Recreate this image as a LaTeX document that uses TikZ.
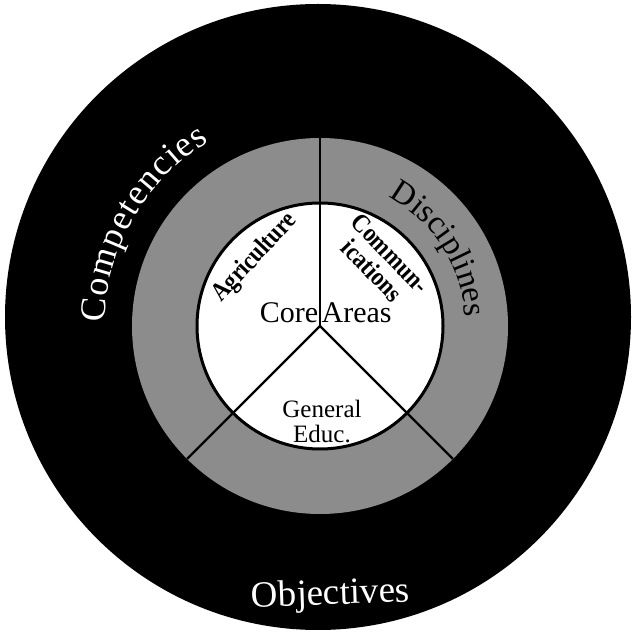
\documentclass[tikz,border=0pt]{standalone}
\usepackage{fontspec}
\setmainfont{Liberation Serif}
\usetikzlibrary{decorations.text}
\definecolor{ringgray}{gray}{0.55}
\begin{document}
\begin{tikzpicture}[x=1pt,y=1pt,
  divider/.style={line width=2.2pt, draw=black},
  label/.style={inner sep=0pt, text=black},
  arctext/.style={decorate, decoration={text along path, text color=#1}}]
\useasboundingbox (0,0) rectangle (633,635);
\fill[white] (0,0) rectangle (633,635);
\coordinate (O) at (318,318);
\coordinate (C) at (320,309);
% discs
\fill[black] (O) circle[radius=313];
\fill[ringgray] (C) circle[radius=188];
\filldraw[fill=white, draw=black, line width=3pt] (C) circle[radius=123];
% dividers
\draw[divider] (C) -- ++(90:188) coordinate (top);
\draw[divider] (C) -- ++(225:188) coordinate (ll);
\draw[divider] (C) -- ++(315:188) coordinate (lr);
% inner labels
\node[label, font=\fontsize{30}{30}\selectfont, anchor=base east] (core) at (318.5,312) {Core};
\node[label, font=\fontsize{30}{30}\selectfont, anchor=base west] (areas) at (321.5,312) {Areas};
\node[label, font=\bfseries\fontsize{26}{26}\selectfont, rotate=47] (agri) at (255,377) {\scalebox{0.86}[1]{Agriculture}};
\node[label, font=\bfseries\fontsize{26}{28}\selectfont, rotate=-46] (comm) at (379,371)
  {\scalebox{0.88}[1]{\begin{tabular}{@{}c@{}}Commun-\\[-3pt]ications\end{tabular}}};
\node[label, font=\fontsize{25}{25}\selectfont, anchor=base] (gen) at (322,217) {General};
\node[label, font=\fontsize{25}{25}\selectfont, anchor=base] (educ) at (322,192) {Educ.};
% ring labels
\path[arctext=black, decoration={text={|\fontsize{33}{33}\selectfont|Disciplines}, text align=center}]
  (357.79,450.03) arc[start angle=75, end angle=-10, radius=145];
\path[arctext=white, decoration={text={|\fontsize{36}{36}\selectfont|Competencies}, text align=fit to path}]
  (105.03,312.75) arc[start angle=179, end angle=121, radius=215];
\node[inner sep=0pt, text=white, font=\fontsize{37}{37}\selectfont, anchor=base, rotate=2] (obj) at (331,30.5) {Objectives};
\end{tikzpicture}
\end{document}
